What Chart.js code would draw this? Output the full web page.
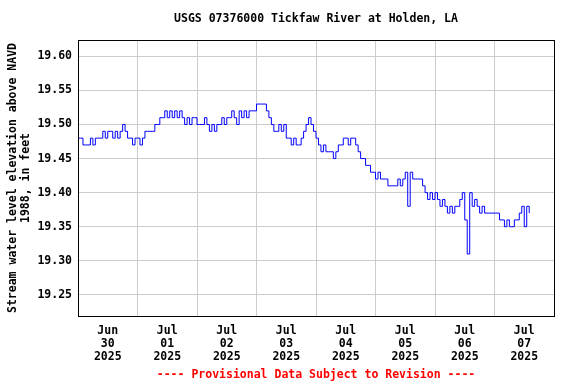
<!DOCTYPE html>
<html>
<head>
<meta charset="utf-8">
<script src="https://cdn.jsdelivr.net/npm/chart.js@4/dist/chart.umd.min.js"></script>
<style>
  html, body { margin: 0; padding: 0; background: #fff; }
  canvas { display: block; }
</style>
</head>
<body>
<canvas id="gage" width="576" height="384"></canvas>
<script>
// Gage height readings, one per hour starting Jun 30 2025 00:00
const jun30 = [19.48, 19.48, 19.47, 19.47, 19.47, 19.48, 19.47, 19.48, 19.48, 19.48, 19.49, 19.48,
               19.49, 19.49, 19.48, 19.49, 19.48, 19.49, 19.50, 19.49, 19.48, 19.48, 19.47, 19.48];
const jul01 = [19.48, 19.47, 19.48, 19.49, 19.49, 19.49, 19.49, 19.50, 19.50, 19.51, 19.51, 19.52,
               19.51, 19.52, 19.51, 19.52, 19.51, 19.52, 19.51, 19.50, 19.51, 19.50, 19.51, 19.51];
const jul02 = [19.50, 19.50, 19.50, 19.51, 19.50, 19.49, 19.50, 19.49, 19.50, 19.50, 19.51, 19.50,
               19.51, 19.51, 19.52, 19.51, 19.50, 19.52, 19.51, 19.52, 19.51, 19.52, 19.52, 19.52];
const jul03 = [19.53, 19.53, 19.53, 19.53, 19.52, 19.51, 19.50, 19.49, 19.49, 19.50, 19.49, 19.50,
               19.48, 19.48, 19.47, 19.48, 19.47, 19.47, 19.48, 19.49, 19.50, 19.51, 19.50, 19.49];
const jul04 = [19.48, 19.47, 19.46, 19.47, 19.46, 19.46, 19.46, 19.45, 19.46, 19.47, 19.47, 19.48,
               19.48, 19.47, 19.48, 19.48, 19.47, 19.46, 19.45, 19.45, 19.44, 19.44, 19.43, 19.43];
const jul05 = [19.42, 19.43, 19.42, 19.42, 19.42, 19.41, 19.41, 19.41, 19.41, 19.42, 19.41, 19.42,
               19.43, 19.38, 19.43, 19.42, 19.42, 19.42, 19.42, 19.41, 19.40, 19.39, 19.40, 19.39];
const jul06 = [19.40, 19.39, 19.38, 19.39, 19.38, 19.37, 19.38, 19.37, 19.38, 19.38, 19.39, 19.40,
               19.36, 19.31, 19.40, 19.38, 19.39, 19.38, 19.37, 19.38, 19.37, 19.37, 19.37, 19.37];
const jul07 = [19.37, 19.37, 19.36, 19.36, 19.35, 19.36, 19.35, 19.35, 19.36, 19.36, 19.37, 19.38,
               19.35, 19.38, 19.37];

const tickMonths = ['Jun', 'Jul', 'Jul', 'Jul', 'Jul', 'Jul', 'Jul', 'Jul'];
const tickDays = ['30', '01', '02', '03', '04', '05', '06', '07'];
const tickYear = '2025';
const yTicks = [19.25, 19.30, 19.35, 19.40, 19.45, 19.50, 19.55, 19.60];

const titleText = 'USGS 07376000 Tickfaw River at Holden, LA';
const footerText = '---- Provisional Data Subject to Revision ----';
const yTitle = ['Stream water level elevation above NAVD', '1988, in feet'];

const MONO = "'DejaVu Sans Mono', 'Liberation Mono', monospace";
const levels = [].concat(jun30, jul01, jul02, jul03, jul04, jul05, jul06, jul07);
const points = levels.map((v, i) => ({ x: i, y: v }));
const midnights = tickDays.map((d, i) => i * 24).concat([tickDays.length * 24]);
const noons = tickDays.map((d, i) => i * 24 + 12);

// title, footer and the frame round the plot
const decor = {
    id: 'decor',
    afterDraw(chart) {
        const { ctx, chartArea: a } = chart;
        const cx = (a.left + a.right) / 2;
        ctx.save();
        ctx.font = 'bold 11.5px ' + MONO;
        ctx.textAlign = 'center';
        ctx.textBaseline = 'middle';
        ctx.fillStyle = '#000';
        ctx.fillText(titleText, cx, 19);
        ctx.fillStyle = '#ff0000';
        ctx.fillText(footerText, cx, 375);
        ctx.strokeStyle = '#000';
        ctx.lineWidth = 1;
        ctx.strokeRect(Math.round(a.left) + 0.5, Math.round(a.top) + 0.5,
                       Math.round(a.right - a.left), Math.round(a.bottom - a.top));
        ctx.restore();
    }
};

new Chart(document.getElementById('gage'), {
    type: 'line',
    data: {
        datasets: [{
            data: points,
            borderColor: '#0000ff',
            borderWidth: 1,
            pointRadius: 0,
            stepped: true,
            fill: false
        }]
    },
    options: {
        responsive: false,
        animation: false,
        devicePixelRatio: 1,
        layout: { padding: { top: 40, right: 22, left: 0, bottom: 0 } },
        plugins: { legend: { display: false }, tooltip: { enabled: false } },
        scales: {
            x: {
                type: 'linear', position: 'bottom', min: 0, max: 192,
                afterBuildTicks: (axis) => { axis.ticks = noons.map(v => ({ value: v })); },
                afterFit: (axis) => { axis.height = 68; },
                grid: { display: false },
                border: { display: false },
                ticks: {
                    padding: 1,
                    maxRotation: 0,
                    autoSkip: false,
                    color: '#000',
                    font: { family: MONO, size: 11.5, weight: 'bold', lineHeight: 1.13 },
                    callback: (v) => {
                        const i = Math.round((v - 12) / 24);
                        return [tickMonths[i], tickDays[i], tickYear];
                    }
                }
            },
            xGrid: {
                type: 'linear', position: 'bottom', min: 0, max: 192,
                afterBuildTicks: (axis) => { axis.ticks = midnights.map(v => ({ value: v })); },
                afterFit: (axis) => { axis.height = 0; },
                grid: { color: '#cccccc', lineWidth: 1, drawTicks: false },
                border: { display: false },
                ticks: { display: false }
            },
            y: {
                min: 19.219, max: 19.624,
                afterBuildTicks: (axis) => { axis.ticks = yTicks.map(v => ({ value: v })); },
                afterFit: (axis) => { axis.width = 78; },
                grid: { color: '#cccccc', lineWidth: 1, drawTicks: false },
                border: { display: false },
                ticks: {
                    padding: 6,
                    color: '#000',
                    font: { family: MONO, size: 11.5, weight: 'bold' },
                    callback: (v) => v.toFixed(2)
                },
                title: {
                    display: true,
                    text: yTitle,
                    color: '#000',
                    padding: { top: 7, bottom: 0 },
                    font: { family: MONO, size: 11.5, weight: 'bold', lineHeight: 1.13 }
                }
            }
        }
    },
    plugins: [decor]
});
</script>
</body>
</html>
